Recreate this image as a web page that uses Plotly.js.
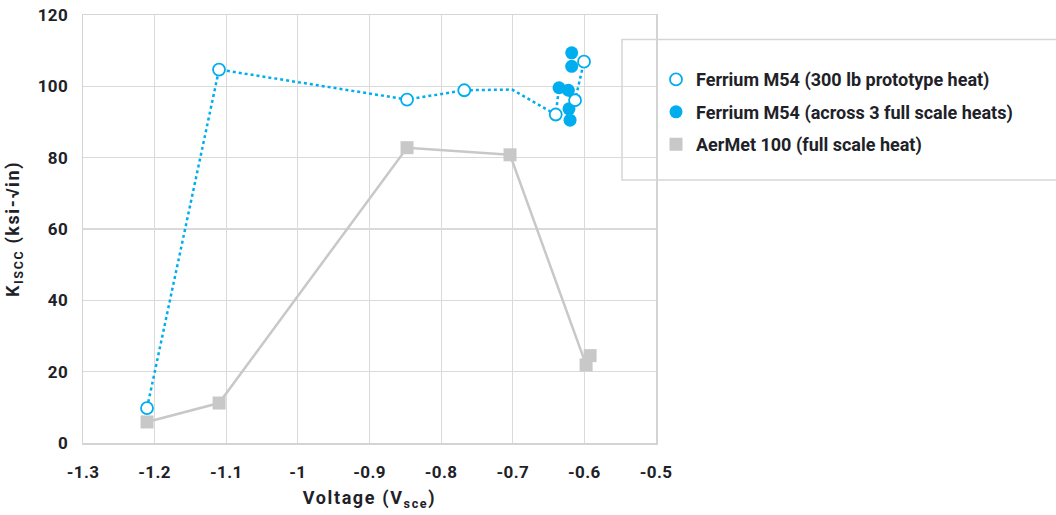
<!DOCTYPE html>
<html>
<head>
<meta charset="utf-8">
<script src="https://cdn.plot.ly/plotly-3.0.1.min.js"></script>
<style>
html,body{margin:0;padding:0;background:#fff;}
#chart{width:1056px;height:515px;}
#chart .xtitle,#chart .ytitle{letter-spacing:1.6px;}
#chart .xtick text,#chart .ytick text{letter-spacing:0.4px;}
</style>
</head>
<body>
<div id="chart"></div>
<script>
// Ferrium M54 (300 lb prototype heat) - open circles
var protoX = [-1.2106, -1.1101, -0.8476, -0.7677, -0.640, -0.613, -0.6005];
var protoY = [9.8, 104.7, 96.3, 98.9, 92.1, 96.1, 106.9];
// dotted connecting line for the prototype heat (includes vertices without markers)
var protoLineX = [-1.2106, -1.1101, -0.8476, -0.7677, -0.701, -0.640, -0.6354, -0.613, -0.6005];
var protoLineY = [9.8, 104.7, 96.3, 98.9, 99.1, 92.1, 99.6, 96.1, 106.9];
// Ferrium M54 (across 3 full scale heats) - filled circles
var fullX = [-0.6177, -0.6177, -0.6354, -0.6224, -0.6215, -0.6200];
var fullY = [109.4, 105.6, 99.6, 98.9, 93.7, 90.5];
// AerMet 100 (full scale heat) - squares
var aerX = [-1.2106, -1.110, -0.8476, -0.7038, -0.5976, -0.5920];
var aerY = [5.9, 11.2, 82.8, 80.8, 21.9, 24.5];

var names = ["Ferrium M54 (300 lb prototype heat)", "Ferrium M54 (across 3 full scale heats)", "AerMet 100 (full scale heat)"];
var xTickVals = [-1.3, -1.2, -1.1, -1.0, -0.9, -0.8, -0.7, -0.6, -0.5];
var xTickText = ["-1.3", "-1.2", "-1.1", "-1", "-0.9", "-0.8", "-0.7", "-0.6", "-0.5"];
var yTickVals = [0, 20, 40, 60, 80, 100, 120];
var yTickText = ["0", "20", "40", "60", "80", "100", "120"];

var blue = "#00AEEF";
var gray = "#C8C8C8";
var txt = "#1e2228";
var fam = "Roboto, 'Open Sans', sans-serif";

var traces = [
  {x: aerX, y: aerY, mode: "lines", line: {color: gray, width: 2.5}, showlegend: false, hoverinfo: "skip"},
  {x: aerX, y: aerY, mode: "markers", name: names[2], legendgroup: "c", legendrank: 3,
   marker: {symbol: "square", size: 13, color: gray}},
  {x: protoLineX, y: protoLineY, mode: "lines", line: {color: blue, width: 2.5, dash: "dot"}, showlegend: false, hoverinfo: "skip"},
  {x: fullX, y: fullY, mode: "markers", name: names[1], legendgroup: "b", legendrank: 2,
   marker: {symbol: "circle", size: 13, color: blue}},
  {x: protoX, y: protoY, mode: "markers", name: names[0], legendgroup: "a", legendrank: 1,
   marker: {symbol: "circle", size: 12, color: "#ffffff", line: {color: blue, width: 1.8}}}
];

var layout = {
  width: 1056, height: 515,
  margin: {l: 83, r: 400, t: 15, b: 72},
  paper_bgcolor: "#ffffff", plot_bgcolor: "#ffffff",
  font: {family: fam, color: txt, size: 16},
  showlegend: true,
  legend: {x: 1.0, y: 0.892, xanchor: "left", yanchor: "top",
    bgcolor: "rgba(0,0,0,0)", borderwidth: 0,
    traceorder: "grouped", tracegroupgap: 6,
    font: {family: fam, size: 18, color: txt, weight: "bold"}},
  xaxis: {range: [-1.3, -0.5], tickvals: xTickVals, ticktext: xTickText,
    showgrid: true, gridcolor: "#dadada", gridwidth: 1.2, zeroline: false,
    showline: true, linecolor: "#d4d4d4", linewidth: 1.5, mirror: true,
    ticks: "", ticklabelstandoff: 13,
    tickfont: {family: fam, size: 17, color: txt, weight: "bold"},
    title: {text: "Voltage (V<sub>sce</sub>)", standoff: 10,
      font: {family: fam, size: 18, color: txt, weight: "bold"}}},
  yaxis: {range: [0, 120], tickvals: yTickVals, ticktext: yTickText,
    showgrid: true, gridcolor: "#dadada", gridwidth: 1.2, zeroline: false,
    showline: true, linecolor: "#d4d4d4", linewidth: 1.5, mirror: true,
    ticks: "", ticklabelstandoff: 10,
    tickfont: {family: fam, size: 17, color: txt, weight: "bold"},
    title: {text: "K<sub>ISCC</sub> (ksi-√in)", standoff: 14,
      font: {family: fam, size: 18, color: txt, weight: "bold"}}},
  shapes: [{type: "rect", xref: "paper", yref: "paper",
    x0: 0.9407, x1: 1.72, y0: 0.6145, y1: 0.9428,
    line: {color: "#d6d6d6", width: 1.5}, fillcolor: "rgba(0,0,0,0)", layer: "below"}]
};

Plotly.newPlot("chart", traces, layout, {displayModeBar: false, staticPlot: true});
</script>
</body>
</html>
